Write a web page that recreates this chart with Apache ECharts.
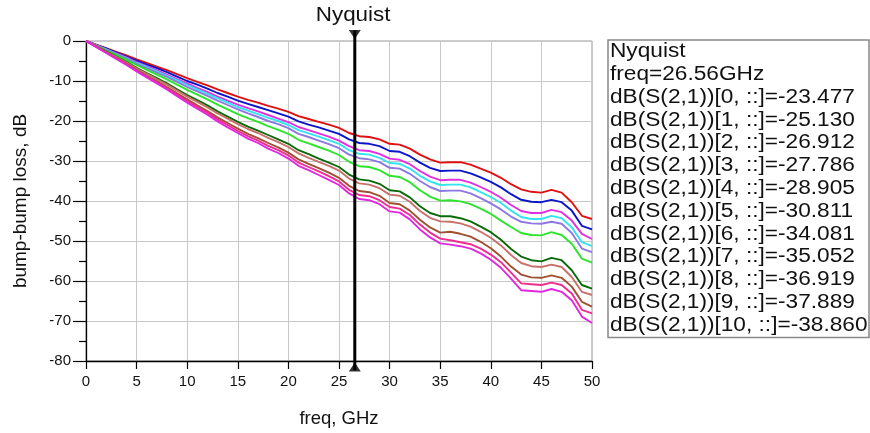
<!DOCTYPE html>
<html>
<head>
<meta charset="utf-8">
<script src="https://cdn.jsdelivr.net/npm/echarts@6/dist/echarts.min.js"></script>
<style>
html,body{margin:0;padding:0;background:#fff;}
#c{width:870px;height:433px;}
</style>
</head>
<body>
<div id="c"></div>
<script>
const freqs = [0,1,2,3,4,5,6,7,8,9,10,11,12,13,14,15,16,17,18,19,20,21,22,23,24,25,26,27,28,29,30,31,32,33,34,35,36,37,38,39,40,41,42,43,44,45,46,47,48,49,50];

const s0 = [0,-0.9,-1.8,-2.7,-3.6,-4.6,-5.5,-6.4,-7.3,-8.3,-9.3,-10.2,-11.1,-12.1,-13.0,-13.9,-14.7,-15.4,-16.2,-16.9,-17.7,-18.8,-19.5,-20.2,-20.9,-21.7,-23.0,-23.8,-24.0,-24.6,-25.7,-25.9,-26.9,-28.4,-29.6,-30.4,-30.3,-30.3,-30.9,-31.9,-32.9,-34.2,-35.8,-37.1,-37.7,-37.9,-37.2,-37.9,-40.3,-43.7,-44.5];
const s1 = [0,-1.0,-1.9,-2.9,-3.9,-4.9,-5.9,-6.8,-7.8,-8.9,-10.0,-10.9,-11.9,-13.0,-13.9,-14.9,-15.7,-16.5,-17.3,-18.1,-18.9,-20.1,-20.9,-21.6,-22.4,-23.2,-24.6,-25.5,-25.7,-26.3,-27.5,-27.7,-28.8,-30.4,-31.7,-32.5,-32.4,-32.4,-33.1,-34.1,-35.2,-36.6,-38.3,-39.7,-40.2,-40.3,-39.7,-40.3,-42.4,-46.2,-47.1];
const s2 = [0,-1.0,-2.1,-3.1,-4.1,-5.3,-6.3,-7.3,-8.4,-9.5,-10.6,-11.7,-12.7,-13.9,-14.9,-15.9,-16.8,-17.6,-18.5,-19.4,-20.3,-21.5,-22.3,-23.1,-23.9,-24.9,-26.3,-27.3,-27.5,-28.2,-29.4,-29.7,-30.8,-32.5,-33.9,-34.8,-34.7,-34.7,-35.4,-36.5,-37.7,-39.2,-41.0,-42.5,-43.0,-43.0,-42.2,-42.8,-44.9,-48.2,-49.5];
const s3 = [0,-1.1,-2.1,-3.2,-4.3,-5.5,-6.5,-7.6,-8.7,-9.8,-11.0,-12.1,-13.2,-14.3,-15.4,-16.5,-17.4,-18.3,-19.2,-20.0,-21.0,-22.3,-23.1,-23.9,-24.8,-25.7,-27.3,-28.2,-28.4,-29.2,-30.5,-30.7,-31.9,-33.7,-35.1,-36.0,-35.9,-35.9,-36.6,-37.8,-39.0,-40.5,-42.4,-44.0,-44.5,-44.5,-43.7,-44.3,-46.6,-50.3,-51.3];
const s4 = [0,-1.1,-2.2,-3.3,-4.4,-5.7,-6.8,-7.9,-9.0,-10.2,-11.5,-12.6,-13.7,-14.9,-16.0,-17.1,-18.1,-19.0,-20.0,-20.8,-21.8,-23.2,-24.0,-24.9,-25.8,-26.8,-28.4,-29.3,-29.6,-30.3,-31.7,-31.9,-33.2,-35.0,-36.5,-37.5,-37.4,-37.4,-38.1,-39.3,-40.6,-42.1,-43.9,-45.2,-45.6,-45.7,-45.2,-45.7,-48.0,-51.9,-52.8];
const s5 = [0,-1.2,-2.4,-3.5,-4.7,-6.0,-7.2,-8.4,-9.6,-10.9,-12.2,-13.4,-14.6,-15.9,-17.1,-18.3,-19.3,-20.2,-21.3,-22.2,-23.2,-24.7,-25.6,-26.5,-27.4,-28.5,-30.2,-31.3,-31.5,-32.3,-33.7,-34.0,-35.3,-37.3,-38.9,-39.9,-39.8,-40.1,-40.8,-41.9,-43.2,-44.9,-46.5,-48.0,-48.5,-48.6,-47.8,-48.5,-50.7,-54.4,-55.4];
const s6 = [0,-1.3,-2.6,-3.9,-5.2,-6.7,-8.0,-9.3,-10.6,-12.1,-13.5,-14.8,-16.1,-17.6,-18.9,-20.2,-21.4,-22.4,-23.5,-24.6,-25.7,-27.3,-28.3,-29.4,-30.4,-31.5,-33.4,-34.6,-34.9,-35.7,-37.3,-37.6,-39.1,-41.3,-43.0,-43.8,-43.8,-44.3,-45.1,-46.4,-47.8,-49.7,-52.0,-53.9,-54.8,-55.1,-54.2,-54.8,-57.3,-61.0,-61.9];
const s7 = [0,-1.3,-2.7,-4.0,-5.4,-6.9,-8.2,-9.6,-10.9,-12.4,-13.9,-15.2,-16.6,-18.1,-19.4,-20.8,-22.0,-23.0,-24.2,-25.3,-26.5,-28.1,-29.2,-30.2,-31.2,-32.4,-34.4,-35.6,-35.9,-36.8,-38.4,-38.7,-40.2,-42.5,-44.2,-45.1,-45.2,-45.6,-46.4,-47.7,-49.2,-51.1,-53.5,-55.5,-56.3,-56.5,-55.9,-56.5,-59.0,-62.7,-63.5];
const s8 = [0,-1.4,-2.8,-4.3,-5.7,-7.2,-8.7,-10.1,-11.5,-13.1,-14.6,-16.1,-17.5,-19.1,-20.5,-21.9,-23.2,-24.3,-25.5,-26.6,-27.9,-29.6,-30.7,-31.8,-32.9,-34.2,-36.2,-37.5,-37.8,-38.7,-40.5,-40.8,-42.4,-44.7,-46.6,-47.9,-47.7,-48.2,-48.9,-50.2,-51.8,-53.9,-56.4,-58.4,-59.1,-59.2,-58.6,-59.2,-61.4,-65.2,-66.4];
const s9 = [0,-1.5,-2.9,-4.4,-5.8,-7.4,-8.9,-10.3,-11.8,-13.4,-15.0,-16.5,-17.9,-19.6,-21.0,-22.5,-23.8,-24.9,-26.2,-27.3,-28.6,-30.4,-31.5,-32.6,-33.8,-35.1,-37.2,-38.5,-38.8,-39.8,-41.5,-41.9,-43.5,-45.9,-47.9,-49.4,-49.8,-50.3,-50.8,-51.9,-53.4,-55.3,-57.9,-60.6,-60.8,-61.0,-60.4,-61.0,-63.1,-67.2,-68.1];
const s10 = [0,-1.5,-3.0,-4.5,-6.0,-7.6,-9.1,-10.6,-12.1,-13.8,-15.4,-16.9,-18.4,-20.1,-21.6,-23.0,-24.4,-25.5,-26.9,-28.0,-29.4,-31.2,-32.3,-33.5,-34.7,-36.0,-38.1,-39.5,-39.8,-40.8,-42.6,-42.9,-44.6,-47.1,-49.1,-50.6,-50.9,-51.3,-51.9,-53.1,-54.7,-56.7,-59.4,-62.3,-62.5,-62.7,-62.0,-62.7,-64.8,-68.9,-70.5];

const traces = [s0,s1,s2,s3,s4,s5,s6,s7,s8,s9,s10];
const traceColors = ['#e01010','#0a14c8','#e030e0','#30e4f0','#8c78e0','#2ce42c','#0a6a0a','#c8706a','#a05030','#f02c90','#e028e0'];

const nyquistFreq = 26.56;
const nyquistValues = [-23.477,-25.130,-26.912,-27.786,-28.905,-30.811,-34.081,-35.052,-36.919,-37.889,-38.860];

const xTicks = {min:0, max:50, interval:5};
const yTicks = {min:-80, max:0, interval:10};

const FONT = '"Liberation Sans", Arial, sans-serif';

const chart = echarts.init(document.getElementById('c'));

const series = traces.map((arr, i) => ({
  name: 'dB(S(2,1))[' + i + ', ::]',
  type: 'line',
  data: freqs.map((f, k) => [f, arr[k]]),
  symbol: 'none',
  smooth: false,
  lineStyle: {color: traceColors[i], width: 1.9},
  itemStyle: {color: traceColors[i]},
  z: 3
}));

series.push({
  name: 'NyquistLine',
  type: 'line',
  data: [[nyquistFreq, 2.6], [nyquistFreq, -82.3]],
  symbol: 'none',
  clip: false,
  lineStyle: {color: '#000', width: 3},
  z: 6
});
series.push({
  name: 'NyquistMarks',
  type: 'scatter',
  clip: false,
  symbol: 'triangle',
  symbolSize: [12, 9],
  itemStyle: {color: '#000'},
  data: [{value: [nyquistFreq, 1.6], symbolRotate: 180}, {value: [nyquistFreq, -81.5]}],
  z: 7
});

chart.setOption({
  animation: false,
  backgroundColor: '#fff',
  textStyle: {fontFamily: FONT},
  grid: {left: 86, right: 278, top: 41, bottom: 70, show: true, borderColor: '#999', borderWidth: 1},
  xAxis: {
    type: 'value', min: xTicks.min, max: xTicks.max, interval: xTicks.interval,
    name: 'freq, GHz', nameLocation: 'middle', nameGap: 48,
    nameTextStyle: {fontSize: 18.5, color: '#111', fontFamily: FONT},
    axisLine: {onZero: false, lineStyle: {color: '#000', width: 1.3}},
    axisTick: {length: 8, lineStyle: {color: '#000', width: 1.2}},
    axisLabel: {fontSize: 15, color: '#111', margin: 13, fontFamily: FONT},
    splitLine: {show: true, lineStyle: {color: '#c8c8c8', width: 1}}
  },
  yAxis: {
    type: 'value', min: yTicks.min, max: yTicks.max, interval: yTicks.interval,
    name: 'bump-bump loss, dB', nameLocation: 'middle', nameGap: 56,
    nameTextStyle: {fontSize: 19, color: '#111', fontFamily: FONT},
    axisLine: {show: true, lineStyle: {color: '#000', width: 1.3}},
    axisTick: {show: true, length: 13, lineStyle: {color: '#000', width: 1.2}},
    minorTick: {show: true, splitNumber: 2, length: 7, lineStyle: {color: '#000', width: 1.2}},
    axisLabel: {fontSize: 15, color: '#111', margin: 15, fontFamily: FONT},
    splitLine: {show: true, lineStyle: {color: '#c8c8c8', width: 1}}
  },
  series: series
});

// Marker title and readout box
const px = chart.convertToPixel({xAxisIndex: 0}, nyquistFreq);
const lines = ['Nyquist', 'freq=' + nyquistFreq.toFixed(2) + 'GHz'].concat(
  nyquistValues.map((v, i) => 'dB(S(2,1))[' + i + ', ::]=' + v.toFixed(3)));

const boxTop = 40, lineH = 22.8, boxLeft = 608, boxRight = 869;
const graphics = [{
  type: 'text', left: px - 39, top: 5,
  style: {text: 'Nyquist', font: '20px ' + FONT, fill: '#111'},
  scaleX: 1.12
}, {
  type: 'rect',
  shape: {x: boxLeft, y: boxTop, width: boxRight - boxLeft, height: lineH * lines.length + 1},
  style: {fill: '#fff', stroke: '#888', lineWidth: 1.5}
}];
lines.forEach((t, i) => {
  graphics.push({
    type: 'text', x: boxLeft + 2, y: boxTop + 1 + lineH * i,
    scaleX: 1.105,
    style: {text: t, font: '20.5px ' + FONT, fill: '#111', textVerticalAlign: 'top', verticalAlign: 'top'}
  });
});
chart.setOption({graphic: graphics});
</script>
</body>
</html>
